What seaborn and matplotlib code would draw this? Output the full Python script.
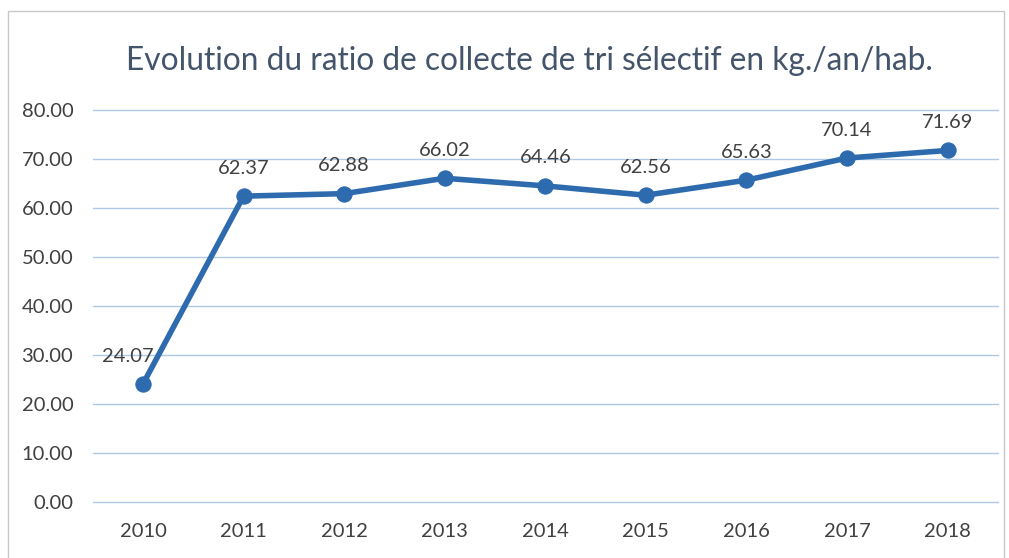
import matplotlib
matplotlib.use("Agg")
import matplotlib.pyplot as plt
import matplotlib.patches as mpatches
import seaborn as sns
import pandas as pd

years = ["2010", "2011", "2012", "2013", "2014", "2015", "2016", "2017", "2018"]
values = [24.07, 62.37, 62.88, 66.02, 64.46, 62.56, 65.63, 70.14, 71.69]
yticks = [0, 10, 20, 30, 40, 50, 60, 70, 80]
title = "Evolution du ratio de collecte de tri sélectif en kg./an/hab."

sns.set_theme(style="white")
plt.rcParams["font.family"] = ["Lato", "DejaVu Sans"]

df = pd.DataFrame({"year": years, "value": values})

fig = plt.figure(figsize=(10.09, 5.58), dpi=100)
ax = fig.add_axes([0.0919, 0.1004, 0.897, 0.703])

line_color = "#2E6BAE"
sns.lineplot(data=df, x="year", y="value", ax=ax, color=line_color, linewidth=4,
             marker="o", markersize=11, markeredgecolor=line_color, zorder=3)

ax.set_xlim(-0.5, len(years) - 0.5)
ax.set_ylim(0, 80)
ax.set_yticks(yticks)
ax.set_yticklabels([f"{v:.2f}" for v in yticks])
ax.grid(axis="y", color="#AFC8E4", linewidth=1)
ax.grid(axis="x", visible=False)
for gl in ax.get_ygridlines():
    gl.set_clip_on(False)
for s in ax.spines.values():
    s.set_visible(False)
ax.set_xlabel("")
ax.set_ylabel("")
ax.tick_params(axis="both", length=0, labelsize=14.5, colors="#404040")
ax.tick_params(axis="y", pad=14)
ax.tick_params(axis="x", pad=15)

for i, v in enumerate(values):
    dx = -11 if i == 0 else 0
    ax.annotate(f"{v:.2f}", (i, v), xytext=(dx, 14), textcoords="offset points",
                ha="center", va="bottom", fontsize=14.5, color="#404040")

fig.text(0.525, 0.89, title, ha="center", va="center", fontsize=22.8, color="#44546A")

rect = mpatches.Rectangle((0.008, -0.01), 0.987, 0.99, transform=fig.transFigure,
                          fill=False, edgecolor="#C8C8C8", linewidth=1)
fig.patches.append(rect)

fig.savefig("out.png", dpi=100)
